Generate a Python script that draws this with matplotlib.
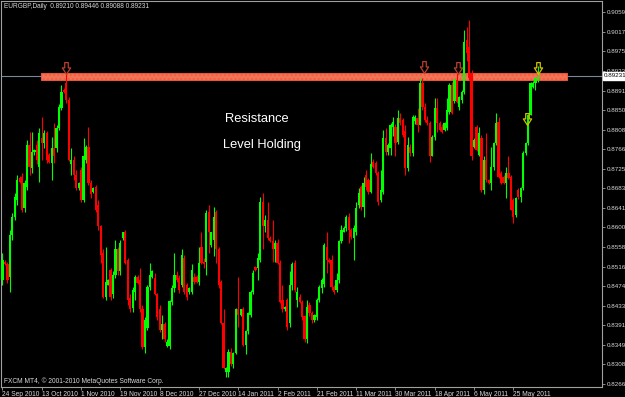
#!/usr/bin/env python3
import matplotlib
matplotlib.use("Agg")
import matplotlib.pyplot as plt
from matplotlib.path import Path
import numpy as np

# EURGBP daily candles, 24 Sep 2010 - 7 Jun 2011
opens = [
    .8488, .8527, .8521, .8495, .8584, .8623, .8659, .8706, .8708, .8642,
    .8686, .8776, .8727, .8761, .8776, .8729, .8791, .8780, .8801, .8755,
    .8738, .8770, .8770, .8812, .8855, .8893, .8908, .8871, .8734, .8744,
    .8712, .8684, .8723, .8659, .8744, .8772, .8695, .8676, .8686, .8648,
    .8602, .8546, .8452, .8478, .8510, .8457, .8499, .8553, .8506, .8578,
    .8589, .8531, .8450, .8429, .8463, .8495, .8488, .8425, .8344, .8386,
    .8473, .8495, .8493, .8457, .8425, .8382, .8393, .8346, .8346, .8440,
    .8471, .8499, .8493, .8478, .8535, .8478, .8463, .8463, .8495, .8495,
    .8484, .8557, .8527, .8527, .8633, .8563, .8574, .8633, .8553, .8484,
    .8397, .8291, .8291, .8335, .8308, .8333, .8425, .8414, .8425, .8350,
    .8378, .8414, .8463, .8516, .8514, .8531, .8653, .8602, .8616, .8578,
    .8570, .8553, .8567, .8525, .8446, .8425, .8446, .8397, .8478, .8525,
    .8446, .8452, .8440, .8410, .8361, .8435, .8418, .8403, .8408, .8446,
    .8471, .8480, .8559, .8531, .8531, .8473, .8467, .8488, .8570, .8591,
    .8599, .8621, .8595, .8578, .8589, .8648, .8686, .8644, .8712, .8701,
    .8676, .8740, .8738, .8716, .8659, .8676, .8791, .8761, .8770, .8814,
    .8814, .8782, .8833, .8829, .8806, .8727, .8772, .8759, .8827, .8833,
    .8818, .8908, .8857, .8829, .8823, .8751, .8793, .8855, .8823, .8814,
    .8808, .8812, .8846, .8904, .8870, .8914, .8857, .8871, .8889, .8999,
    .8985, .8929, .8772, .8814, .8755, .8790, .8680, .8744, .8701, .8695,
    .8729, .8780, .8825, .8716, .8708, .8695, .8716, .8708, .8659, .8627,
    .8680, .8665, .8684, .8759, .8780, .8840, .8900, .8908, .89210,
]
highs = [
    .8546, .8531, .8527, .8595, .8631, .8674, .8712, .8710, .8716, .8701,
    .8787, .8804, .8804, .8768, .8787, .8812, .8836, .8808, .8806, .8759,
    .8793, .8823, .8818, .8863, .8904, .8897, .8929, .8878, .8770, .8751,
    .8723, .8697, .8729, .8791, .8776, .8814, .8701, .8686, .8691, .8659,
    .8606, .8553, .8559, .8490, .8514, .8506, .8574, .8557, .8574, .8591,
    .8595, .8535, .8457, .8473, .8499, .8499, .8514, .8435, .8408, .8478,
    .8525, .8508, .8503, .8461, .8435, .8414, .8399, .8361, .8446, .8478,
    .8546, .8506, .8499, .8553, .8542, .8482, .8473, .8521, .8503, .8499,
    .8557, .8591, .8535, .8638, .8648, .8591, .8644, .8638, .8557, .8488,
    .8425, .8303, .8340, .8342, .8335, .8429, .8495, .8425, .8431, .8382,
    .8420, .8467, .8510, .8518, .8546, .8665, .8674, .8627, .8653, .8582,
    .8616, .8574, .8576, .8531, .8478, .8433, .8450, .8506, .8527, .8531,
    .8473, .8457, .8446, .8414, .8446, .8440, .8422, .8416, .8450, .8478,
    .8493, .8567, .8591, .8535, .8542, .8478, .8503, .8574, .8606, .8602,
    .8627, .8631, .8599, .8606, .8653, .8684, .8691, .8708, .8723, .8706,
    .8759, .8746, .8742, .8720, .8723, .8808, .8812, .8780, .8823, .8836,
    .8820, .8850, .8844, .8833, .8818, .8793, .8778, .8840, .8840, .8855,
    .8919, .8919, .8865, .8838, .8827, .8797, .8876, .8876, .8827, .8820,
    .8825, .8876, .8908, .8910, .8919, .8929, .8880, .8893, .9021, .9027,
    .9042, .8936, .8791, .8818, .8814, .8797, .8751, .8801, .8703, .8772,
    .8782, .8844, .8836, .8720, .8712, .8729, .8751, .8712, .8663, .8665,
    .8684, .8686, .8763, .8782, .8842, .8910, .8912, .8921, .89446,
]
lows = [
    .8478, .8519, .8482, .8463, .8574, .8616, .8648, .8695, .8633, .8633,
    .8680, .8712, .8716, .8755, .8734, .8697, .8744, .8770, .8738, .8738,
    .8701, .8738, .8761, .8808, .8850, .8887, .8865, .8742, .8712, .8701,
    .8680, .8680, .8655, .8653, .8738, .8691, .8663, .8674, .8633, .8595,
    .8525, .8450, .8446, .8476, .8446, .8450, .8493, .8499, .8499, .8574,
    .8521, .8435, .8420, .8420, .8446, .8480, .8420, .8340, .8333, .8382,
    .8467, .8493, .8455, .8403, .8376, .8361, .8356, .8344, .8340, .8435,
    .8463, .8484, .8461, .8473, .8457, .8446, .8457, .8457, .8480, .8482,
    .8478, .8521, .8514, .8499, .8546, .8559, .8538, .8525, .8471, .8393,
    .8297, .8280, .8280, .8305, .8301, .8329, .8388, .8410, .8346, .8329,
    .8372, .8408, .8457, .8506, .8488, .8527, .8553, .8591, .8574, .8568,
    .8527, .8527, .8521, .8438, .8420, .8422, .8382, .8388, .8467, .8463,
    .8431, .8438, .8403, .8356, .8354, .8412, .8397, .8399, .8403, .8440,
    .8461, .8473, .8503, .8525, .8467, .8457, .8463, .8482, .8567, .8589,
    .8593, .8567, .8576, .8531, .8584, .8642, .8638, .8623, .8680, .8672,
    .8674, .8727, .8712, .8648, .8653, .8670, .8755, .8755, .8755, .8795,
    .8751, .8778, .8818, .8793, .8712, .8720, .8753, .8753, .8820, .8804,
    .8818, .8850, .8825, .8818, .8740, .8751, .8787, .8804, .8806, .8802,
    .8806, .8808, .8842, .8842, .8865, .8865, .8850, .8865, .8884, .8955,
    .8914, .8744, .8770, .8763, .8751, .8676, .8670, .8697, .8693, .8680,
    .8723, .8776, .8706, .8693, .8693, .8663, .8704, .8636, .8610, .8621,
    .8661, .8655, .8680, .8755, .8776, .8840, .8897, .8893, .89088,
]
closes = [
    .8531, .8521, .8488, .8584, .8623, .8665, .8701, .8697, .8638, .8695,
    .8776, .8729, .8761, .8765, .8744, .8801, .8780, .8801, .8744, .8740,
    .8770, .8751, .8812, .8857, .8889, .8889, .8871, .8744, .8744, .8712,
    .8684, .8695, .8659, .8751, .8772, .8695, .8670, .8684, .8638, .8602,
    .8542, .8452, .8484, .8488, .8452, .8499, .8553, .8506, .8567, .8589,
    .8525, .8446, .8425, .8467, .8495, .8482, .8425, .8344, .8403, .8473,
    .8499, .8506, .8457, .8408, .8382, .8393, .8361, .8356, .8442, .8471,
    .8499, .8488, .8467, .8542, .8463, .8452, .8471, .8510, .8484, .8484,
    .8525, .8525, .8521, .8631, .8589, .8589, .8623, .8553, .8478, .8397,
    .8301, .8301, .8335, .8308, .8333, .8425, .8414, .8425, .8350, .8378,
    .8418, .8463, .8503, .8510, .8535, .8653, .8602, .8616, .8578, .8570,
    .8553, .8567, .8525, .8440, .8425, .8431, .8388, .8478, .8521, .8467,
    .8463, .8440, .8408, .8361, .8431, .8418, .8403, .8414, .8446, .8473,
    .8488, .8563, .8531, .8527, .8473, .8463, .8488, .8570, .8595, .8599,
    .8621, .8595, .8580, .8599, .8642, .8674, .8644, .8695, .8686, .8676,
    .8734, .8729, .8716, .8655, .8680, .8791, .8761, .8776, .8818, .8825,
    .8780, .8833, .8823, .8797, .8727, .8776, .8759, .8836, .8836, .8818,
    .8908, .8857, .8829, .8823, .8751, .8793, .8855, .8823, .8808, .8804,
    .8823, .8850, .8904, .8844, .8914, .8867, .8878, .8889, .8995, .8972,
    .8919, .8751, .8787, .8765, .8801, .8680, .8744, .8701, .8695, .8729,
    .8780, .8823, .8708, .8695, .8695, .8716, .8706, .8638, .8623, .8663,
    .8665, .8684, .8759, .8780, .8840, .8908, .8908, .8919, .89231,
]

date_labels = ["24 Sep 2010", "13 Oct 2010", "1 Nov 2010", "19 Nov 2010",
               "8 Dec 2010", "27 Dec 2010", "14 Jan 2011", "2 Feb 2011",
               "21 Feb 2011", "11 Mar 2011", "30 Mar 2011", "18 Apr 2011",
               "6 May 2011", "25 May 2011"]
price_ticks = [0.90590, 0.90170, 0.89750, 0.89330, 0.88910, 0.88500, 0.88080,
               0.87660, 0.87250, 0.86830, 0.86410, 0.86000, 0.85580, 0.85160,
               0.84740, 0.84330, 0.83910, 0.83490, 0.83080, 0.82660]

last_price = 0.89231
band_low, band_high = 0.8914, 0.8929
band_start, band_end = 15.7, 229.8
# down-arrow marks (bar, price)
red_arrows = [(26, 0.8940), (171.5, 0.8941), (185.5, 0.8940)]
yellow_arrows = [(218, 0.8940), (213.5, 0.8831)]

BG = "#000000"
FG = "#d8d8d8"
FONT = "Liberation Sans"

# hollow MT4 style down arrow
arrow_path = Path([(-0.3, 1), (0.3, 1), (0.3, 0.1), (0.7, 0.1), (0, -1),
                   (-0.7, 0.1), (-0.3, 0.1), (-0.3, 1)], closed=True)

opens = np.array(opens)
closes = np.array(closes)
highs = np.array(highs)
lows = np.array(lows)
x = np.arange(len(closes))

fig = plt.figure(figsize=(6.25, 3.97), dpi=100, facecolor=BG)
ax = fig.add_axes([1 / 625, 10 / 397, 601 / 625, 386 / 397], facecolor=BG)

# resistance band behind the candles
ax.fill_between([band_start, band_end], band_low, band_high, facecolor="#f07458",
                edgecolor="#ff5a3a", linewidth=0.6, hatch="....", zorder=1)
ax.axhline(last_price, color="#778899", linewidth=0.8, zorder=0.5)

up = closes >= opens
colors = np.where(up, "#00ff00", "#ff0000")
ax.vlines(x, lows, highs, colors=colors, linewidth=0.8, zorder=2)
bottoms = np.minimum(opens, closes)
heights = np.maximum(np.abs(closes - opens), 0.00015)
ax.bar(x, heights, bottom=bottoms, width=0.9, color=colors, linewidth=0, zorder=3)

for pts, col in ((red_arrows, "#b8402c"), (yellow_arrows, "#d4c000")):
    ax.plot([p[0] for p in pts], [p[1] for p in pts], linestyle="none",
            marker=arrow_path, markersize=8.5, markerfacecolor="none",
            markeredgecolor=col, markeredgewidth=0.9, zorder=5)

ax.text(103.6, 0.8831, "Resistance", color="white", fontsize=9.3, family=FONT,
        ha="center", va="center")
ax.text(105.5, 0.8776, "Level Holding", color="white", fontsize=9.3, family=FONT,
        ha="center", va="center")

ax.set_xlim(-0.61, 244.1)
ax.set_ylim(0.82596, 0.90825)

ax.set_xticks(range(0, 16 * len(date_labels), 16))
ax.set_xticklabels(date_labels, ha="left", fontsize=4.8, color=FG, family=FONT)
ax.yaxis.tick_right()
ax.set_yticks(price_ticks)
ax.set_yticklabels(["%.5f" % p for p in price_ticks], fontsize=4.5, color=FG,
                   family=FONT)
ax.tick_params(axis="y", length=2.5, width=0.6, color="#a0a0a0", pad=1)
ax.tick_params(axis="x", length=2.5, width=0.6, color="#a0a0a0", pad=0.2)

for s in ax.spines.values():
    s.set_color("#a0a0a0")
    s.set_linewidth(0.8)

# current price box on the scale
ax.annotate("%.5f" % last_price, xy=(1.0, last_price),
            xycoords=("axes fraction", "data"), xytext=(1.5, 0),
            textcoords="offset points", fontsize=4.5, family=FONT,
            color="black", va="center", ha="left",
            bbox=dict(boxstyle="square,pad=0.25", facecolor="white",
                      edgecolor="white"), annotation_clip=False)

fig.text(4 / 625, 1 - 7 / 397,
         "EURGBP,Daily  %.5f %.5f %.5f %.5f" % (opens[-1], highs[-1], lows[-1], closes[-1]),
         fontsize=4.7, color=FG, family=FONT, va="center")
fig.text(4 / 625, 1 - 381 / 397, "FXCM MT4, \u00a9 2001-2010 MetaQuotes Software Corp.",
         fontsize=4.8, color=FG, family=FONT, va="center")

fig.savefig("out.png", dpi=100, facecolor=BG)
